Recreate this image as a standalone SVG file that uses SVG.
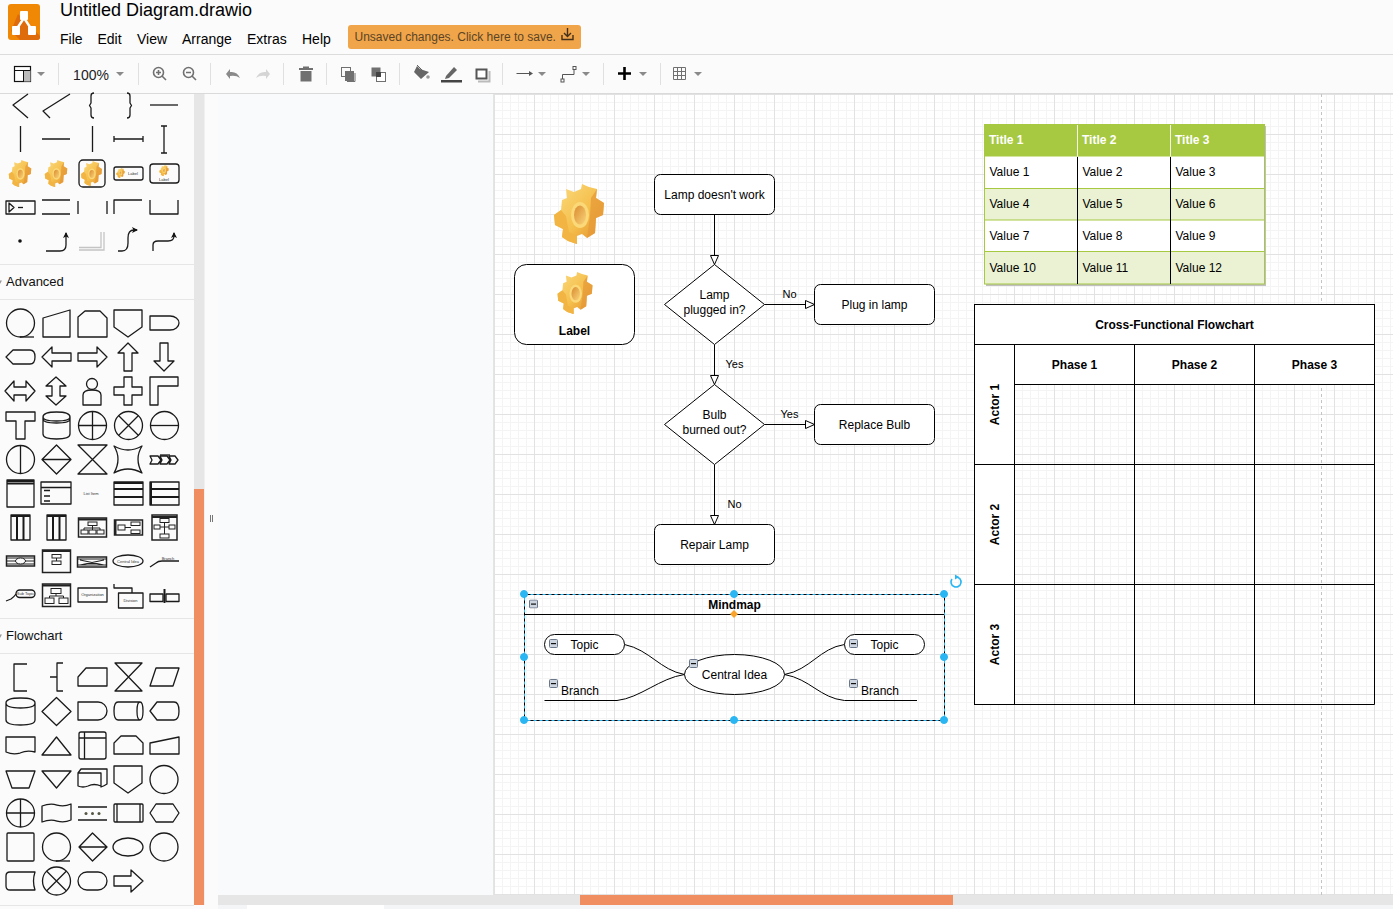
<svg xmlns="http://www.w3.org/2000/svg" xmlns:xlink="http://www.w3.org/1999/xlink" width="1393" height="909" viewBox="0 0 1393 909">
<style>
text{font-family:"Liberation Sans",Arial,sans-serif}
.n{fill:#fff;stroke:#000;stroke-width:1}
.o{fill:none;stroke:#000;stroke-width:1}
.c{fill:none;stroke:#000;stroke-width:1;marker-end:url(#tri)}
.t{font-size:12px;fill:#000;text-anchor:middle}
.b{font-size:12px;font-weight:bold;fill:#000;text-anchor:middle}
.e{font-size:11px;fill:#000;text-anchor:middle}
.l{font-size:12px;fill:#000}
.w{font-size:12px;font-weight:bold;fill:#fff}
.m{font-size:14px;fill:#000}
.h{font-size:13px;fill:#111}
.p{fill:none;stroke:#1a1a1a;stroke-width:1.3;stroke-linejoin:round}
.q{fill:none;stroke:#1a1a1a;stroke-width:2}
.d{fill:#333;stroke:none}
.mini{font-size:4px;fill:#333;text-anchor:middle}
.ti{fill:#707070;stroke:none}
.ts{fill:none;stroke:#707070;stroke-width:1.6}
.car{fill:#8a8a8a;stroke:none}
.sep{stroke:#e0e0e0;stroke-width:1}
.hd{fill:#29b6f2;stroke:#29b6f2}
</style>
<defs>
<pattern id="grid" x="494" y="94" width="40" height="40" patternUnits="userSpaceOnUse">
<path d="M8.5 0V40M16.5 0V40M24.5 0V40M32.5 0V40M0 8.5H40M0 16.5H40M0 24.5H40M0 32.5H40" stroke="#f4f4f4" stroke-width="1" fill="none"/>
<path d="M0.5 0V40M0 0.5H40" stroke="#e2e2e2" stroke-width="1" fill="none"/>
</pattern>
<linearGradient id="gg" x1="0" y1="0" x2="1" y2="1"><stop offset="0" stop-color="#fbdc80"/><stop offset=".55" stop-color="#f5bf4c"/><stop offset="1" stop-color="#e08a2a"/></linearGradient>
<linearGradient id="gh" x1="0" y1="0" x2="1" y2="1"><stop offset="0" stop-color="#d98a2e"/><stop offset="1" stop-color="#fad47a"/></linearGradient>
<symbol id="gear" viewBox="0 0 50 60">
<path d="M12 5L20 8L27 5L28 0L35 3L43 5L42 14L50 19L49 31L42 34L41 49L33 54L28 50L23 52L23 60L14 57L8 53L9 45L1 41L0 31L7 26L8 16L13 14Z" fill="url(#gg)"/>
<path d="M1 41L9 45L8 53L14 57L23 60L23 52L15 48L12 32L7 26L0 31Z" fill="#f2b544"/>
<path d="M43 5L42 14L50 19L49 31L42 34L41 49L33 54L36 32L37 14Z" fill="#e69a38" opacity=".75"/>
<ellipse cx="26" cy="31" rx="9" ry="13" fill="#fbd878"/>
<ellipse cx="26" cy="31" rx="6" ry="9.5" fill="url(#gh)"/>
</symbol>
<symbol id="col" viewBox="0 0 9 9">
<rect x=".5" y=".5" width="8" height="8" rx="1" fill="#cdd5e0" stroke="#6b7789"/>
<rect x="2" y="4" width="5" height="1.2" fill="#111"/>
</symbol>
<marker id="tri" markerUnits="userSpaceOnUse" markerWidth="11" markerHeight="11" refX="10" refY="5.5" orient="auto">
<path d="M1 1.5L10 5.5L1 9.5Z" fill="#fff" stroke="#000"/>
</marker>
<marker id="arr" markerUnits="userSpaceOnUse" markerWidth="7" markerHeight="7" refX="5" refY="3.5" orient="auto">
<path d="M0 0.5L6 3.5L0 6.5L1.5 3.5Z" fill="#111"/>
</marker>
</defs>

<rect width="1393" height="909" fill="#fbfbfb"/>

<g id="canvas">
<rect x="218" y="94" width="276" height="801" fill="#f9fafb"/>
<rect x="494" y="94" width="899" height="801" fill="#fff"/>
<rect x="494" y="94" width="899" height="801" fill="url(#grid)"/>
<path d="M493.5 94V895" stroke="#e4e4e4" fill="none"/>
<path d="M1321.5 94V895" stroke="#c4c4c4" stroke-dasharray="3 3" fill="none"/>
</g>

<g id="header">
<g id="logo">
<rect x="8" y="4" width="32" height="36" rx="3" fill="#f08705"/>
<path d="M18 14L40 36V37Q40 40 37 40H20L11 31Z" fill="#df6c0c"/>
<path d="M24 18L16 30M24 18L32 30" stroke="#fff" stroke-width="2.4" fill="none"/>
<rect x="20" y="11" width="8" height="9" rx="1" fill="#fff"/>
<rect x="12" y="26" width="8" height="9" rx="1" fill="#fff"/>
<rect x="28" y="26" width="8" height="9" rx="1" fill="#fff"/>
</g>
<text x="60" y="16" font-size="18" fill="#000">Untitled Diagram.drawio</text>
<text class="m" x="60" y="44">File</text>
<text class="m" x="97.500" y="44">Edit</text>
<text class="m" x="137" y="44">View</text>
<text class="m" x="182" y="44">Arrange</text>
<text class="m" x="247" y="44">Extras</text>
<text class="m" x="302" y="44">Help</text>
<g id="save-button">
<rect x="348" y="25" width="233" height="24" rx="3" fill="#f0a54a"/>
<text x="354.500" y="41" font-size="12" fill="#5b4426">Unsaved changes. Click here to save.</text>
<path d="M567.500 28V36M564 33L567.500 36.500L571 33M562 35V39.500H573V35" fill="none" stroke="#443018" stroke-width="1.4"/>
</g>
<path d="M0 54.500H1393" stroke="#dcdcdc"/>
</g>

<g id="toolbar">
<rect x="0" y="55" width="1393" height="38" fill="#fbfbfb"/>
<path d="M0 93.500H1393" stroke="#dadada"/>
<path class="sep" d="M58.500 63V85M138.500 63V85M210.500 63V85M283.500 63V85M326.500 63V85M399.500 63V85M502.500 63V85M603.500 63V85M660.500 63V85"/>
<g id="tb-layout"><rect x="14.500" y="66.500" width="16" height="15" fill="#fff" stroke="#111" stroke-width="1.2"/><rect x="24" y="70" width="6.500" height="11.500" fill="#bbb"/><path d="M14.500 70.500H30.500M23.500 70.500V81.500" stroke="#111" fill="none"/><path class="car" d="M37 72H45L41 76Z"/></g>
<text x="91" y="80" font-size="14" fill="#222" text-anchor="middle">100%</text>
<path class="car" d="M116 72H124L120 76Z"/>
<g id="tb-zoom"><circle cx="158.500" cy="72.500" r="5" class="ts"/><path class="ts" d="M162 76L166 80M156 72.500H161M158.500 70V75"/><circle cx="188.500" cy="72.500" r="5" class="ts"/><path class="ts" d="M192 76L196 80M186 72.500H191"/></g>
<g id="tb-undo"><path d="M226 74L230 69V72Q237 71 240 78Q236 75 230 76V79Z" fill="#8a8a8a"/><path d="M270 74L266 69V72Q259 71 256 78Q260 75 266 76V79Z" fill="#d5d5d5"/></g>
<g id="tb-delete"><rect x="299" y="68" width="14" height="2" class="ti"/><rect x="303" y="66.500" width="6" height="2" class="ti"/><path class="ti" d="M300.500 71H311.500V81.500H300.500Z"/></g>
<g id="tb-order"><rect x="341.500" y="67.500" width="9" height="9" fill="none" stroke="#707070"/><rect x="345" y="71" width="9" height="10" fill="#707070"/><path d="M347 81.500H355V73" stroke="#707070" fill="none"/><rect x="371.500" y="67.500" width="9" height="9" fill="#707070"/><rect x="376.500" y="72.500" width="9" height="9" fill="#fff" stroke="#707070"/><rect x="376" y="72" width="5" height="5" fill="#444"/></g>
<g id="tb-style"><path d="M417 66L414 72L421 79L429 72L420 69Z" fill="#666"/><path d="M417 65L422 70" stroke="#666" fill="none"/><circle cx="428" cy="77" r="1.800" fill="#999"/><path d="M446 76L454 67L457 70L449 78L445 79Z" fill="#666"/><rect x="441" y="80" width="21" height="2.500" fill="#444"/><rect x="476.500" y="69.500" width="10" height="9" fill="#fff" stroke="#555" stroke-width="2"/><path d="M478 81.500H489.500V71" stroke="#bbb" stroke-width="2" fill="none"/></g>
<g id="tb-conn"><path d="M516.500 73.500H530" stroke="#555" fill="none"/><path d="M529 71L533 73.500L529 76Z" fill="#555"/><path class="car" d="M538 72H546L542 76Z"/><path d="M562.500 80V74.500H574V68" stroke="#555" fill="none"/><rect x="561" y="79" width="3" height="3" fill="#fff" stroke="#555"/><rect x="573" y="66.500" width="3" height="3" fill="#fff" stroke="#555"/><path class="car" d="M582 72H590L586 76Z"/></g>
<g id="tb-insert"><path d="M618 73.500H631M624.500 67V80" stroke="#000" stroke-width="2.600" fill="none"/><path class="car" d="M639 72H647L643 76Z"/></g>
<g id="tb-table"><path d="M673.500 67.500H685.500V79.500H673.500ZM673.500 71.500H685.500M673.500 75.500H685.500M677.500 67.500V79.500M681.500 67.500V79.500" stroke="#707070" fill="none"/><path class="car" d="M694 72H702L698 76Z"/></g>
</g>

<g id="sidebar">
<rect x="0" y="94" width="194" height="811" fill="#fbfbfb"/>
<rect x="194" y="94" width="10" height="395" fill="#e6e6e6"/>
<rect x="194" y="489" width="10" height="416" fill="#f08e62"/>
<path d="M204.500 94V905" stroke="#f0f0f0"/>
<path d="M210.500 515V522M212.500 515V522" stroke="#777" fill="none"/>
<path d="M0 264.500H194M0 299.500H194M0 618.500H194M0 653.500H194M0 905.500H194" stroke="#e6e6e6" fill="none"/>
<text class="h" x="6" y="286">Advanced</text>
<text class="h" x="6" y="640">Flowchart</text>
<path d="M0 280.500H2L0 284ZM0 634.500H2L0 638Z" fill="#999"/>

<g id="palette-misc">
<path class="p" d="M28 94L13 105L28 118"/>
<path class="p" d="M70 94L43 111L50 118"/>
<path class="p" d="M94 93Q91 93 91 96V103L89.500 105.500L91 108V115Q91 118 94 118"/>
<path class="p" d="M127 93Q130 93 130 96V103L131.500 105.500L130 108V115Q130 118 127 118"/>
<path class="p" d="M150 105H178"/>
<path class="p" d="M20.500 126V152M42 139H70M92.500 126V152M114 139H143M114 136V142M143 136V142M164 126V153M161 126H167M161 153H167"/>
<use href="#gear" x="8" y="160" width="24" height="27"/>
<use href="#gear" x="44" y="160" width="24" height="27"/>
<rect class="p" x="79" y="160" width="26" height="27" rx="4"/>
<use href="#gear" x="81" y="161" width="21" height="25"/>
<rect class="p" x="114" y="167" width="29" height="13" rx="2"/>
<use href="#gear" x="116" y="168" width="9" height="10"/>
<text class="mini" x="133" y="174.500">Label</text>
<rect class="p" x="150" y="164" width="29" height="19" rx="3"/>
<use href="#gear" x="159" y="165" width="10" height="11"/>
<text class="mini" x="164" y="181">Label</text>
<rect class="p" x="6" y="201" width="29" height="13"/>
<path class="p" d="M9 203V212L14 207.500Z"/>
<path class="p" d="M18 207.500H23" stroke-width=".8"/>
<path class="p" d="M42 200H70M42 214H70M78 201V214M107 201V214M114 214V200H142M150 200V214H178V200"/>
<circle cx="20" cy="241" r="1.800" fill="#111"/>
<path class="p" d="M46 251H60Q66 251 66 245V233" marker-end="url(#arr)"/>
<path d="M79 250H104V232M79 247.500H101V232" fill="none" stroke="#c4c4c4" stroke-width="1.300"/>
<path class="p" d="M118 251H122Q128 251 128 243V238Q128 230 134 230H137" marker-end="url(#arr)"/>
<path class="p" d="M153 251V245Q153 241 158 241H168Q174 241 174 236V233" marker-end="url(#arr)"/>
</g>

<g id="palette-advanced">
<circle class="p" cx="20.500" cy="323" r="14"/><path class="p" d="M20 337H34"/>
<path class="p" d="M43 318L70 310V337H43Z"/>
<path class="p" d="M78 337V317L85 311H100L107 318V337Z"/>
<path class="p" d="M114 310H142V327L128 337L114 327Z"/>
<path class="p" d="M150 316H170A9 7 0 0 1 170 330H150Z"/>
<path class="p" d="M6 357L13 350H30Q35 350 35 357Q35 364 30 364H13Z"/>
<path class="p" d="M42 357L52 347V353H71V361H52V367Z"/>
<path class="p" d="M78 353H97V347L107 357L97 367V361H78Z"/>
<path class="p" d="M128 343L138 353H132V371H124V353H118Z"/>
<path class="p" d="M160 343H168V361H174L164 371L154 361H160Z"/>
<path class="p" d="M5 391L14 381V387H26V381L35 391L26 401V395H14V401Z"/>
<path class="p" d="M56 377L66 386H60V396H66L56 405L46 396H52V386H46Z"/>
<circle class="p" cx="92" cy="384" r="5.500"/><path class="p" d="M83 405V395Q83 390 92 390Q101 390 101 395V405Z"/>
<path class="p" d="M124 377H132V387H142V395H132V405H124V395H114V387H124Z"/>
<path class="p" d="M150 377H178V386H158V405H150Z"/>
<path class="p" d="M6 412H35V421H25V439H16V421H6Z"/>
<path class="p" d="M43 417Q43 412 56.500 412Q70 412 70 417V434Q70 439 56.500 439Q43 439 43 434ZM43 417Q43 421 56.500 421Q70 421 70 417M43 419Q43 423 56.500 423Q70 423 70 419"/>
<circle class="p" cx="92.500" cy="425.500" r="14"/><path class="p" d="M78.500 425.500H106.500M92.500 411.500V439.500"/>
<circle class="p" cx="128.500" cy="425.500" r="14"/><path class="p" d="M118.500 415.500L138.500 435.500M138.500 415.500L118.500 435.500"/>
<circle class="p" cx="164.500" cy="425.500" r="14"/><path class="p" d="M150.500 425.500H178.500"/>
<circle class="p" cx="20.500" cy="459.500" r="14"/><path class="p" d="M20.500 445.500V473.500"/>
<path class="p" d="M56.500 445L71 459.500L56.500 474L42 459.500ZM42 459.500H71"/>
<path class="p" d="M78 445H107L78 474H107Z"/>
<path class="p" d="M114 446Q128 454 142 446Q134 459 142 473Q128 465 114 473Q122 459 114 446Z"/>
<path class="p" d="M150 456H158L161 460L158 464H150L152 460ZM160 456H167L170 460L167 464H160L162 460ZM169 456H175L178 460L175 464H169L171 460Z" stroke-width="1"/><path class="p" d="M160 455H170" stroke-width=".7"/>
<rect class="p" x="7" y="480" width="27" height="27"/><path class="q" d="M7 481H34M7 483.500H34" stroke-width="1"/>
<rect class="p" x="41" y="482" width="30" height="22"/><path class="p" d="M41 487.500H71M44 490.500H50M44 496H50M44 501H50" stroke-width="1"/>
<text class="mini" x="91" y="494.500" font-size="5">List Item</text>
<rect class="p" x="114" y="482" width="29" height="23"/><path class="q" d="M114 483H143M114 489H143M114 497H143"/>
<rect class="p" x="150" y="482" width="29" height="23"/><path class="q" d="M151 482V505M152 489H179M152 497H179"/>
<rect class="p" x="11" y="515" width="19" height="25"/><path class="q" d="M11 516H30M17 516V540M23.500 516V540"/>
<rect class="p" x="47" y="515" width="19" height="25"/><path class="q" d="M47 516H66M53 516V540M59.500 516V540"/>
<g id="mini-orgs" fill="none" stroke="#222">
<rect x="78.500" y="518" width="28" height="19" stroke-width="1.500"/><path d="M79 519.500H106" stroke-width="2"/><rect x="88" y="522" width="9" height="3.500"/><rect x="81" y="530" width="7" height="4"/><rect x="89" y="530" width="7" height="4"/><rect x="97" y="530" width="7" height="4"/><path d="M92.500 525.500V530M84 530V528H100V530"/>
<rect x="114.500" y="520" width="28" height="15" stroke-width="1.500"/><path d="M115.500 520V535" stroke-width="2"/><rect x="118" y="525" width="7" height="5"/><rect x="131" y="522" width="9" height="3.500"/><rect x="131" y="530" width="9" height="3.500"/><path d="M125 527.500H131"/>
<rect x="152" y="515" width="25" height="25" stroke-width="1.500"/><path d="M152 517H177" stroke-width="2"/><rect x="160" y="518.500" width="9" height="4"/><rect x="154" y="525" width="6" height="4"/><rect x="169" y="525" width="6" height="4"/><rect x="160" y="534" width="9" height="4"/><path d="M164.500 522.500V534M160 527H169"/>
<rect x="6.500" y="556" width="28" height="10" stroke-width="1.500"/><path d="M6.500 558H34.500M6.500 561H34.500M6.500 564H34.500" stroke-width="1.200"/><ellipse cx="20.500" cy="561" rx="5" ry="3" fill="#fbfbfb"/>
<rect x="42.500" y="550" width="28" height="22.500" stroke-width="1.500"/><path d="M42.500 551H70.500" stroke-width="2"/><rect x="52" y="554.500" width="9" height="3.500"/><rect x="52" y="561" width="9" height="3.500"/><path d="M56.500 558V561"/>
<rect x="77.500" y="557" width="29" height="10" stroke-width="1.500"/><path d="M77.500 559H106.500M80 560L104 565M104 560L80 565M77.500 565H106.500" stroke-width="1.200"/>
</g>
<ellipse class="p" cx="128" cy="561" rx="15" ry="6"/><text class="mini" x="128" y="562.500">Central Idea</text>
<path class="p" d="M150 567L156 563Q158 561 162 561H179" stroke-width="1"/><text class="mini" x="168" y="559.500">Branch</text>
<path class="p" d="M6 601L11 599Q14 597 16 594" stroke-width="1"/><rect class="p" x="16" y="590" width="19" height="7.500" rx="3.700"/><text class="mini" x="25.500" y="595">Sub Topic</text>
<g id="mini-orgs-2" fill="none" stroke="#222">
<rect x="42.500" y="584" width="28" height="22.500" stroke-width="1.500"/><path d="M42.500 585.500H70.500" stroke-width="2"/><rect x="51" y="588.500" width="10" height="5"/><rect x="45" y="598" width="9" height="5.500"/><rect x="59" y="598" width="9" height="5.500"/><path d="M56 593.500V596H49.500V598M56 596H63.500V598"/>
</g>
<rect class="p" x="78" y="588" width="29" height="14"/><text class="mini" x="92.500" y="596">Organization</text>
<path class="p" d="M114 584V588H132V593M118.500 593H143V608H118.500Z"/><text class="mini" x="130.500" y="601.500">Division</text>
<rect class="p" x="150" y="594" width="13" height="7.500"/><rect class="p" x="166" y="594" width="13" height="7.500"/><path class="q" d="M164.500 589V603"/>
</g>

<g id="palette-flowchart">
<path class="p" d="M27 664H14V691H27"/>
<path class="p" d="M63 663H57V691H63M50 677H57"/>
<path class="p" d="M78 686V677L86 668H107V686Z"/>
<path class="p" d="M115 663H142L115 691H142Z"/>
<path class="p" d="M156 668H179L173 686H150Z"/>
<path class="p" d="M6 703Q6 698 20.500 698Q35 698 35 703V720Q35 725 20.500 725Q6 725 6 720ZM6 703Q6 708 20.500 708Q35 708 35 703"/>
<path class="p" d="M56.500 697.500L71 711.500L56.500 725.500L42 711.500Z"/>
<path class="p" d="M78 702H98A9 9 0 0 1 98 720H78Z"/>
<path class="p" d="M118 702H140Q143 702 143 711Q143 720 140 720H118Q114 720 114 711Q114 702 118 702ZM140 702Q137 702 137 711Q137 720 140 720"/>
<path class="p" d="M150 711L157 702H174Q179 702 179 711Q179 720 174 720H157Z"/>
<path class="p" d="M6 737H35V752Q27 750 20 753Q13 755 6 752Z"/>
<path class="p" d="M56.500 737L71 755H42Z"/>
<rect class="p" x="79" y="732" width="27" height="27" rx="2"/><path class="p" d="M79 738H106M84.500 732V759"/>
<path class="p" d="M114 754V743L121 736H136L143 743V754Z"/>
<path class="p" d="M150 743L179 737V754H150Z"/>
<path class="p" d="M6 771H35L29 788H12Z"/>
<path class="p" d="M42 771H71L56.500 788Z"/>
<path class="p" d="M78 773L81 769H107V784Q104 786 101 787V773ZM78 773H101V786Q94 783 88 786Q83 788 78 786Z"/>
<path class="p" d="M114 766H142V783L128 793L114 783Z"/>
<circle class="p" cx="164" cy="779.500" r="14"/>
<circle class="p" cx="20.500" cy="813" r="14"/><path class="p" d="M6.500 813H34.500M20.500 799V827"/>
<path class="p" d="M42 806Q50 803 57 805Q64 807 71 804V820Q64 823 57 821Q50 819 42 822Z"/>
<path class="p" d="M78 807H107M78 820H107"/><circle cx="86" cy="813.500" r="1.500" fill="#554"/><circle cx="92.500" cy="813.500" r="1.500" fill="#554"/><circle cx="99" cy="813.500" r="1.500" fill="#554"/>
<rect class="p" x="114" y="804" width="29" height="18" rx="1"/><path class="p" d="M117 804V822M140 804V822"/>
<path class="p" d="M150 813L156 804H173L179 813L173 822H156Z"/>
<rect class="p" x="7" y="833" width="27" height="28" rx="1"/>
<circle class="p" cx="56.500" cy="847" r="14"/><path class="p" d="M56 861H70"/>
<path class="p" d="M92.500 833L107 847L92.500 861L79 847ZM79 847H107"/>
<ellipse class="p" cx="128" cy="847" rx="15" ry="9"/>
<circle class="p" cx="164" cy="847" r="14"/>
<path class="p" d="M10 872H35Q32 881 35 890H10Q6 890 6 886V876Q6 872 10 872Z"/>
<circle class="p" cx="56.500" cy="881" r="14"/><path class="p" d="M46.500 871L66.500 891M66.500 871L46.500 891"/>
<rect class="p" x="78" y="872" width="29" height="18" rx="9"/>
<path class="p" d="M114 876H131V870L143 881L131 892V886H114Z"/>
</g>
</g>

<g id="scrollbar">
<rect x="218" y="895" width="1175" height="10" fill="#e6e6e6"/>
<rect x="580" y="895" width="373" height="10" fill="#f08e62"/>
<rect x="218" y="905" width="1175" height="4" fill="#f4f5f6"/>
<rect x="247" y="905" width="137" height="4" fill="#fff"/>
</g>

<g id="connectors">
<path class="c" d="M714.500 214.500V264.500"/>
<path class="c" d="M764.500 304.500H814.500"/>
<path class="c" d="M714.500 344.500V384.500"/>
<path class="c" d="M764.500 424.500H814.500"/>
<path class="c" d="M714.500 464.500V524.500"/>
<path class="o" d="M624.500 644.500C650 650 660 670 684.500 674.500"/>
<path class="o" d="M617 700.500C640 698 660 678 684.500 674.500"/>
<path class="o" d="M784.500 674.500C810 670 820 648 844.500 644.500"/>
<path class="o" d="M784.500 674.500C810 679 820 698 844.500 700.500"/>
<text class="e" x="789.500" y="298">No</text>
<text class="e" x="734.500" y="368">Yes</text>
<text class="e" x="789.500" y="418">Yes</text>
<text class="e" x="734.500" y="508">No</text>
</g>

<g id="gear-image"><use href="#gear" x="554" y="184" width="50" height="60"/></g>
<g id="label-node">
<rect class="n" x="514.500" y="264.500" width="120" height="80" rx="12"/>
<use href="#gear" x="554" y="272" width="42" height="42"/>
<text class="b" x="574.500" y="335">Label</text>
</g>
<g id="node-lamp"><rect class="n" x="654.500" y="174.500" width="120" height="40" rx="6"/><text class="t" x="714.500" y="199">Lamp doesn't work</text></g>
<g id="node-plugged"><path class="n" d="M714.500 264.500L764.500 304.500L714.500 344.500L664.500 304.500Z"/><text class="t" x="714.500" y="299">Lamp</text><text class="t" x="714.500" y="314">plugged in?</text></g>
<g id="node-plug"><rect class="n" x="814.500" y="284.500" width="120" height="40" rx="6"/><text class="t" x="874.500" y="309">Plug in lamp</text></g>
<g id="node-bulb"><path class="n" d="M714.500 384.500L764.500 424.500L714.500 464.500L664.500 424.500Z"/><text class="t" x="714.500" y="419">Bulb</text><text class="t" x="714.500" y="434">burned out?</text></g>
<g id="node-replace"><rect class="n" x="814.500" y="404.500" width="120" height="40" rx="6"/><text class="t" x="874.500" y="429">Replace Bulb</text></g>
<g id="node-repair"><rect class="n" x="654.500" y="524.500" width="120" height="40" rx="6"/><text class="t" x="714.500" y="549">Repair Lamp</text></g>

<g id="table">
<rect x="986" y="126" width="280" height="160" fill="#c0c0c0"/>
<rect x="984.500" y="124.500" width="280" height="159.500" fill="#fff"/>
<rect x="984.500" y="124.500" width="280" height="32" fill="#a7c942"/>
<rect x="984.500" y="188.500" width="280" height="31.500" fill="#eaf2d3"/>
<rect x="984.500" y="251.500" width="280" height="32.500" fill="#eaf2d3"/>
<path d="M984.500 188.500H1264.500M984.500 220H1264.500M984.500 251.500H1264.500" stroke="#a7c942" fill="none"/>
<rect x="984.500" y="124.500" width="280" height="159.500" fill="none" stroke="#a7c942"/>
<path d="M1077.500 125V156M1170.500 125V156" stroke="#f4f8e4" fill="none"/>
<path d="M1077.500 157V284M1170.500 157V284" stroke="#000" fill="none"/>
<text class="w" x="989" y="144">Title 1</text><text class="w" x="1082" y="144">Title 2</text><text class="w" x="1175" y="144">Title 3</text>
<text class="l" x="989.500" y="176">Value 1</text><text class="l" x="1082.500" y="176">Value 2</text><text class="l" x="1175.500" y="176">Value 3</text>
<text class="l" x="989.500" y="208">Value 4</text><text class="l" x="1082.500" y="208">Value 5</text><text class="l" x="1175.500" y="208">Value 6</text>
<text class="l" x="989.500" y="240">Value 7</text><text class="l" x="1082.500" y="240">Value 8</text><text class="l" x="1175.500" y="240">Value 9</text>
<text class="l" x="989.500" y="272">Value 10</text><text class="l" x="1082.500" y="272">Value 11</text><text class="l" x="1175.500" y="272">Value 12</text>
</g>

<g id="cross-functional">
<rect class="n" x="974.500" y="304.500" width="400" height="40"/>
<rect class="n" x="974.500" y="344.500" width="40" height="360"/>
<rect class="n" x="1014.500" y="344.500" width="360" height="40"/>
<path class="o" d="M974.500 464.500H1374.500M974.500 584.500H1374.500M974.500 704.500H1374.500M1134.500 344.500V704.500M1254.500 344.500V704.500M1374.500 344.500V704.500"/>
<text class="b" x="1174.500" y="329">Cross-Functional Flowchart</text>
<text class="b" x="1074.500" y="369">Phase 1</text>
<text class="b" x="1194.500" y="369">Phase 2</text>
<text class="b" x="1314.500" y="369">Phase 3</text>
<text class="b" transform="translate(999 404.500) rotate(-90)">Actor 1</text>
<text class="b" transform="translate(999 524.500) rotate(-90)">Actor 2</text>
<text class="b" transform="translate(999 644.500) rotate(-90)">Actor 3</text>
</g>

<g id="mindmap">
<path class="o" d="M524.500 614.500H944.500"/>
<text class="b" x="734.500" y="609">Mindmap</text>
<g id="mm-topic-left"><rect class="n" x="544.500" y="634.500" width="80" height="20" rx="10"/><text class="t" x="584.500" y="649">Topic</text></g>
<g id="mm-topic-right"><rect class="n" x="844.500" y="634.500" width="80" height="20" rx="10"/><text class="t" x="884.500" y="649">Topic</text></g>
<g id="mm-central"><ellipse class="n" cx="734.500" cy="674.500" rx="50" ry="20"/><text class="t" x="734.500" y="679">Central Idea</text></g>
<g id="mm-branch-left"><path class="o" d="M544.500 700.500H617"/><text class="t" x="580" y="695">Branch</text></g>
<g id="mm-branch-right"><path class="o" d="M844.500 700.500H917"/><text class="t" x="880" y="695">Branch</text></g>
<use href="#col" x="529" y="599.500" width="9" height="9"/>
<use href="#col" x="549" y="639" width="9" height="9"/>
<use href="#col" x="849" y="639" width="9" height="9"/>
<use href="#col" x="689" y="659" width="9" height="9"/>
<use href="#col" x="549" y="679" width="9" height="9"/>
<use href="#col" x="849" y="679" width="9" height="9"/>
</g>

<g id="selection">
<rect x="524.500" y="594.500" width="420" height="126" fill="none" stroke="#000" stroke-width="1"/>
<rect x="524.500" y="594.500" width="420" height="126" fill="none" stroke="#29b6f2" stroke-width="1" stroke-dasharray="3 3"/>
<circle class="hd" cx="524" cy="594" r="3.500"/><circle class="hd" cx="734" cy="594" r="3.500"/><circle class="hd" cx="944" cy="594" r="3.500"/>
<circle class="hd" cx="524" cy="657" r="3.500"/><circle class="hd" cx="944" cy="657" r="3.500"/>
<circle class="hd" cx="524" cy="720" r="3.500"/><circle class="hd" cx="734" cy="720" r="3.500"/><circle class="hd" cx="944" cy="720" r="3.500"/>
<path d="M734 610L738 614L734 618L730 614Z" fill="#f8a32b"/>
<path d="M952 579A5 5 0 1 0 956 577" fill="none" stroke="#29b6f2" stroke-width="1.600"/>
<path d="M955 574.500L959 577L955 579.500Z" fill="#29b6f2"/>
</g>
</svg>
